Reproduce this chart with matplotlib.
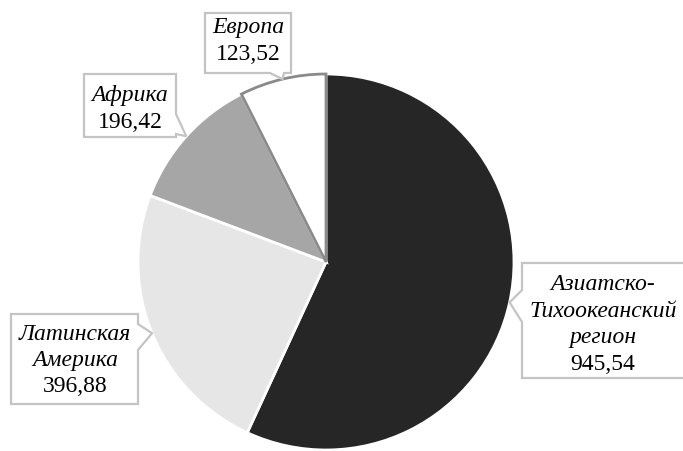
import numpy as np
import matplotlib.pyplot as plt
from matplotlib.patches import Polygon

# data
regions = ["Азиатско-\nТихоокеанский\nрегион", "Латинская\nАмерика", "Африка", "Европа"]
values = [945.54, 396.88, 196.42, 123.52]
value_labels = ["945,54", "396,88", "196,42", "123,52"]
colors = ["#262626", "#e7e6e6", "#a6a6a6", "#ffffff"]

W, H = 683, 451
fig = plt.figure(figsize=(W / 100, H / 100), dpi=100)
ax = fig.add_axes([0, 0, 1, 1])

cx, cy, R = 326, H - 262, 188
wedges, _ = ax.pie(values, colors=colors, startangle=90, counterclock=False,
                   center=(cx, cy), radius=R, frame=True,
                   wedgeprops=dict(edgecolor="white", linewidth=2))
ax.set_xlim(0, W)
ax.set_ylim(0, H)
ax.set_aspect("equal")
ax.axis("off")
wedges[3].set_edgecolor("#8a8a8a")
wedges[3].set_linewidth(2)
wedges[3].set_zorder(3)


def callout(box, side, a, b, tip):
    # box in image pixels (x0, x1, y0, y1); notch base from a to b along side
    x0, x1, y0, y1 = box
    y0, y1 = H - y0, H - y1
    if side == "bottom":
        pts = [(x0, y0), (x1, y0), (x1, y1), (b, y1), tip, (a, y1), (x0, y1)]
    elif side == "right":
        pts = [(x0, y0), (x1, y0), (x1, H - a), tip, (x1, H - b), (x1, y1), (x0, y1)]
    else:  # left
        pts = [(x0, y0), (x1, y0), (x1, y1), (x0, y1), (x0, H - b), tip, (x0, H - a)]
    ax.add_patch(Polygon(pts, closed=True, facecolor="white", edgecolor="#c4c4c4",
                         linewidth=1.6, zorder=5))


def tip_of(w):
    t = np.deg2rad((w.theta1 + w.theta2) / 2)
    return (cx + R * np.cos(t), cy + R * np.sin(t))


boxes = [
    ((522, 690, 263, 378), "left", 290, 322),
    ((11, 138, 314, 404), "right", 324, 350),
    ((84, 176, 74, 137), "right", 114, 134),
    ((205, 291, 13, 73), "bottom", 270, 284),
]
text_x = [603, 75, 130, 248]
name_top = [285, 334, 96, 28]
step = 26.5

font = "Liberation Serif"
for i, w in enumerate(wedges):
    box, side, a, b = boxes[i]
    callout(box, side, a, b, tip_of(w))
    lines = regions[i].split("\n")
    for j, ln in enumerate(lines):
        ax.text(text_x[i], H - (name_top[i] + step * j), ln, ha="center", va="center",
                fontsize=17, family=font, style="italic", zorder=6)
    ax.text(text_x[i], H - (name_top[i] + step * len(lines)), value_labels[i],
            ha="center", va="center", fontsize=17, family=font, zorder=6)

fig.savefig("out.png", dpi=100)
